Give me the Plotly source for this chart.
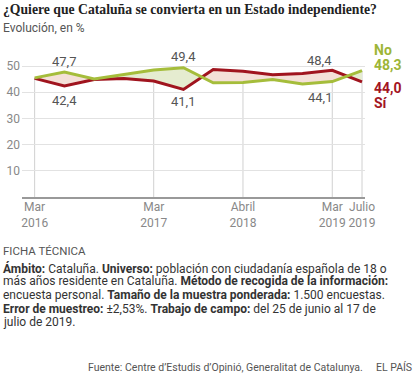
import plotly.graph_objects as go

# ---------------- data ----------------
periods = ["Mar 2016", "Jul 2016", "Nov 2016", "Dic 2016", "Mar 2017", "Jul 2017",
           "Oct 2017", "Abr 2018", "Jul 2018", "Nov 2018", "Mar 2019", "Jul 2019"]
no_vals = [45.5, 47.7, 45.1, 46.8, 48.5, 49.4, 43.6, 43.7, 44.9, 43.2, 44.1, 48.3]
si_vals = [45.3, 42.4, 44.9, 45.3, 44.3, 41.1, 48.7, 48.0, 46.7, 47.2, 48.4, 44.0]
tick_idx = [0, 4, 7, 10, 11]
tick_labels = ["Mar<br>2016", "Mar<br>2017", "Abril<br>2018", "Mar<br>2019", "Julio<br>2019"]
y_ticks = [10, 20, 30, 40, 50]
# shading of the first two intervals as printed in the original graphic
shade_override = {0: "si", 1: "si"}

# ---------------- style ----------------
GREEN = "#a5bd3b"
RED = "#a0141e"
GREEN_TXT = "#9db537"
RED_TXT = "#a3151f"
FILL = {"no": "#e5ecd0", "si": "#f4e0d8"}
FONT = "Roboto"

L, R, T, B = 22, 49, 53, 187
FW, FH = 414, 384
W = FW - L - R
H = FH - T - B


def px(x):
    return (x - L) / W


def py(y):
    return (FH - B - y) / H


x = list(range(len(periods)))

fig = go.Figure()

# ---- fill between the two lines, split at crossings ----
pieces = []
for i in range(len(x) - 1):
    a0, a1 = no_vals[i], no_vals[i + 1]
    b0, b1 = si_vals[i], si_vals[i + 1]
    d0, d1 = a0 - b0, a1 - b1
    if i in shade_override:
        pieces.append((shade_override[i], x[i], x[i + 1], a0, a1, b0, b1))
    elif d0 * d1 < 0:
        t = d0 / (d0 - d1)
        xc = x[i] + t * (x[i + 1] - x[i])
        yc = a0 + t * (a1 - a0)
        pieces.append(("no" if d0 > 0 else "si", x[i], xc, a0, yc, b0, yc))
        pieces.append(("no" if d1 > 0 else "si", xc, x[i + 1], yc, a1, yc, b1))
    else:
        side = "no" if (d0 + d1) > 0 else "si"
        pieces.append((side, x[i], x[i + 1], a0, a1, b0, b1))

groups = []
for p in pieces:
    if groups and groups[-1][0] == p[0]:
        groups[-1][1].append(p)
    else:
        groups.append((p[0], [p]))

for side, ps in groups:
    xs_top = [ps[0][1]] + [p[2] for p in ps]
    ys_top = [ps[0][3]] + [p[4] for p in ps]
    ys_bot = [ps[0][5]] + [p[6] for p in ps]
    fig.add_trace(go.Scatter(
        x=xs_top + xs_top[::-1], y=ys_top + ys_bot[::-1],
        fill="toself", fillcolor=FILL[side], mode="none",
        hoverinfo="skip", showlegend=False))

fig.add_trace(go.Scatter(x=x, y=si_vals, mode="lines", name="Sí",
                         line=dict(color=RED, width=3), showlegend=False))
fig.add_trace(go.Scatter(x=x, y=no_vals, mode="lines", name="No",
                         line=dict(color=GREEN, width=3), showlegend=False))

for i in tick_idx:
    fig.add_shape(type="line", xref="x", yref="y", x0=i, x1=i, y0=0,
                  y1=max(no_vals[i], si_vals[i]),
                  line=dict(color="#d0d0d0", width=1), layer="below")


def fmt(v):
    return f"{v:.1f}".replace(".", ",")


ann = []
lab_font = dict(family=FONT, size=13, color="#555")
ann.append(dict(x=1, y=no_vals[1], text=fmt(no_vals[1]), yanchor="bottom", yshift=1))
ann.append(dict(x=1, y=si_vals[1], text=fmt(si_vals[1]), yanchor="top", yshift=-5))
ann.append(dict(x=5, y=no_vals[5], text=fmt(no_vals[5]), yanchor="bottom", yshift=2))
ann.append(dict(x=5, y=si_vals[5], text=fmt(si_vals[5]), yanchor="top", yshift=-3))
ann.append(dict(x=10, y=si_vals[10], text=fmt(si_vals[10]), yanchor="bottom",
                xanchor="right", xshift=2, yshift=0))
ann.append(dict(x=10, y=no_vals[10], text=fmt(no_vals[10]), yanchor="top",
                xanchor="right", xshift=2, yshift=-6))
for a in ann:
    a.update(xref="x", yref="y", showarrow=False, font=lab_font)
    a.setdefault("xanchor", "center")

last = len(x) - 1
end_g = dict(family=FONT, size=14, color=GREEN_TXT, weight="bold")
end_r = dict(family=FONT, size=14, color=RED_TXT, weight="bold")
ann += [
    dict(x=last, y=no_vals[last], text="No", xanchor="left", yanchor="middle",
         xshift=10, yshift=21, font=end_g),
    dict(x=last, y=no_vals[last], text=fmt(no_vals[last]), xanchor="left",
         yanchor="middle", xshift=10, yshift=6, font=end_g),
    dict(x=last, y=si_vals[last], text=fmt(si_vals[last]), xanchor="left",
         yanchor="middle", xshift=10, yshift=-6, font=end_r),
    dict(x=last, y=si_vals[last], text="Sí", xanchor="left", yanchor="middle",
         xshift=10, yshift=-21, font=end_r),
]
for a in ann[-4:]:
    a.update(xref="x", yref="y", showarrow=False)


def ptext(text, x0, ytop, size=12, color="#333", family=FONT, xanchor="left",
          yanchor="top"):
    return dict(xref="paper", yref="paper", x=px(x0), y=py(ytop), text=text,
                showarrow=False, xanchor=xanchor, yanchor=yanchor, align="left",
                borderpad=0, borderwidth=0,
                font=dict(family=family, size=size, color=color))


LX = 2.5
ann.append(ptext("<b>¿Quiere que Cataluña se convierta en un Estado independiente?</b>",
                 LX, 2, size=13.7, color="#222", family="Liberation Serif"))
ann.append(ptext("Evolución, en %", LX, 20.5, size=12, color="#555"))
ann.append(ptext("FICHA TÉCNICA", LX, 243.5, size=11.5, color="#555"))
para = [
    "<b>Ámbito:</b> Cataluña. <b>Universo:</b> población con ciudadanía española de 18 o",
    "más años residente en Cataluña. <b>Método de recogida de la información:</b>",
    "encuesta personal. <b>Tamaño de la muestra ponderada:</b> 1.500 encuestas.",
    "<b>Error de muestreo:</b> ±2,53%. <b>Trabajo de campo:</b> del 25 de junio al 17 de",
    "julio de 2019.",
]
for k, line in enumerate(para):
    ann.append(ptext(line, LX, 260.8 + k * 13.6, size=12, color="#333"))
ann.append(ptext("Fuente: Centre d’Estudis d’Opinió, Generalitat de Catalunya.",
                 363, 360.5, size=10.5, color="#555", xanchor="right"))
ann.append(ptext("EL PAÍS", 412, 360.5, size=10.5, color="#555", xanchor="right"))

fig.update_layout(
    width=FW, height=FH,
    margin=dict(l=L, r=R, t=T, b=B, pad=0, autoexpand=False),
    paper_bgcolor="white", plot_bgcolor="white",
    annotations=ann,
    xaxis=dict(range=[-0.425, 11.1], tickmode="array", tickvals=tick_idx,
               ticktext=tick_labels, tickangle=0, showgrid=False, zeroline=False,
               showline=True, linecolor="#999", linewidth=1.5, ticks="",
               automargin=False, ticklabelstandoff=-2,
               tickfont=dict(family=FONT, size=12, color="#888"),
               fixedrange=True),
    yaxis=dict(range=[0, 55], tickmode="array", tickvals=y_ticks,
               showgrid=True, gridcolor="#e2e2e2", gridwidth=1, zeroline=False,
               showline=False, ticks="", ticklabelstandoff=1, automargin=False,
               tickfont=dict(family=FONT, size=12, color="#888"),
               fixedrange=True),
    showlegend=False,
)

fig.write_html("out.html", config={"displayModeBar": False},
               post_script="document.body.style.margin='0px';document.body.style.overflow='hidden';")
